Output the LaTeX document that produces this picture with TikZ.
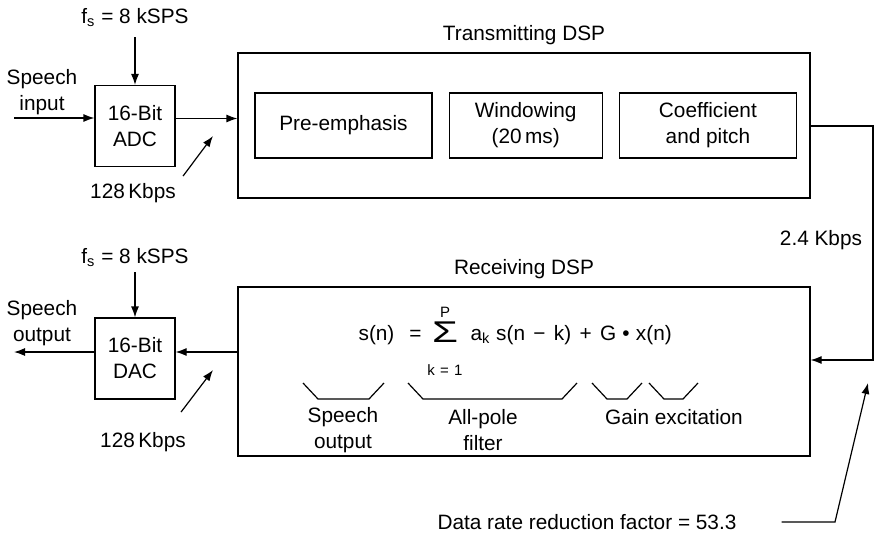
\documentclass[tikz,border=0pt]{standalone}
\usepackage{fontspec}
\setmainfont{Liberation Sans}
\usetikzlibrary{arrows.meta, positioning}

\begin{document}
\begin{tikzpicture}[x=0.5pt, y=-0.5pt, line width=0.6pt, font=\fontsize{10.4}{13}\selectfont]

  % styles
  \tikzstyle{conv} = [rectangle, minimum width=40pt, minimum height=40.5pt, inner sep=1pt, align=center, draw=black]
  \tikzstyle{dsp} = [rectangle, minimum width=286pt, draw=black]
  \tikzstyle{process} = [rectangle, minimum height=32.5pt, inner sep=1pt, align=center, draw=black]
  \tikzstyle{txt} = [align=center]
  \tikzstyle{small} = [inner sep=0pt, font=\fontsize{7.5}{8}\selectfont]
  \tikzstyle{arrow} = [-{Latex[length=5.5pt, width=4pt]}]

  \useasboundingbox (0,0) rectangle (874,542);

  % transmitter side
  \node (fs1) [anchor=base] at (135,23) {f\textsubscript{s} = 8 kSPS};
  \node (adc) [conv] at (135,126) {16-Bit\\ADC};
  \node (spin) [txt] at (42,92) {Speech\\input};
  \node (tx) [dsp, minimum height=72.5pt] at (524,125.5) {};
  \node (txlabel) [above=0pt of tx] {Transmitting DSP};
  \node (pre) [process, minimum width=88.5pt] at (343.5,125.5) {Pre-emphasis};
  \node (win) [process, minimum width=76.5pt, right=8pt of pre] {Windowing\\(20\,ms)};
  \node (coef) [process, minimum width=88.5pt, right=8pt of win] {Coefficient\\and pitch};
  \node (r1) at (133,193) {128\,Kbps};

  % receiver side
  \node (fs2) [anchor=base] at (135,263) {f\textsubscript{s} = 8 kSPS};
  \node (dac) [conv] at (135,358.5) {16-Bit\\DAC};
  \node (spout) [txt] at (42,323) {Speech\\output};
  \node (rx) [dsp, minimum height=84.5pt] at (524,371.5) {};
  \node (rxlabel) [above=0pt of rx] {Receiving DSP};
  \node (r2) at (143,442) {128\,Kbps};

  % equation
  \node (lhs) [anchor=base west, inner sep=0pt] at (358,340) {s(n)\hspace{7.5pt}=};
  \node (sig) [anchor=base, inner sep=0pt, font=\fontsize{15}{15}\selectfont] at (445,342) {\scalebox{1.4}[1]{Σ}};
  \node (sigtop) [small] at (445,312) {P};
  \node (sigbot) [small] at (445,370) {k\hspace{0.35em}=\hspace{0.35em}1};
  \node (rhs) [anchor=base west, inner sep=0pt] at (470,340)
    {a\textsubscript{k} s(n\hspace{0.4em}−\hspace{0.4em}k)\hspace{0.4em}+\hspace{0.4em}G\hspace{0.3em}•\hspace{0.3em}x(n)};

  % braces under the equation
  \foreach \a/\b in {303/384, 408/577, 592/642, 649/698}
    \draw (\a,383) -- (\a+15,399) -- (\b-15,399) -- (\b,383);
  \node (bspeech) [txt] at (343,430) {Speech\\output};
  \node (bpole) [txt] at (483,430) {All-pole\\filter};
  \node (bgain) at (674,417) {Gain excitation};

  % link and notes
  \node (rate) at (821,240) {2.4 Kbps};
  \node (drf) at (587,522) {Data rate reduction factor = 53.3};

  % arrows
  \draw [arrow] ([yshift=-7pt]fs1.base) -- (adc);
  \coordinate (inL) at (14,118);
  \draw [arrow] (inL) -- (inL -| adc.west);
  \path ([yshift=3.75pt]adc.east) coordinate (adcout);
  \draw [arrow] (adcout) -- (adcout -| tx.west);
  \coordinate (r1tip) at (213,136);
  \draw [arrow] (r1.north east) -- (r1tip);

  \coordinate (rt) at (873,126);
  \coordinate (rb) at (873,360);
  \draw [arrow] (rt -| tx.east) -- (rt) -- (rb) -- (rb -| rx.east);

  \draw [arrow] ([yshift=-4.5pt]fs2.base) -- (dac);
  \path ([yshift=3.25pt]dac.east) coordinate (dacin);
  \draw [arrow] (dacin -| rx.west) -- (dacin);
  \coordinate (outL) at (14,352);
  \draw [arrow] (dacin -| dac.west) -- (outL);
  \coordinate (r2tip) at (213,370);
  \draw [arrow] ([xshift=-6pt, yshift=6.5pt]r2.north east) -- (r2tip);

  \coordinate (drfk) at (835,522);
  \coordinate (drftip) at (868,383);
  \draw [arrow] ([xshift=19pt]drf.east) -- (drfk) -- (drftip);

\end{tikzpicture}
\end{document}
